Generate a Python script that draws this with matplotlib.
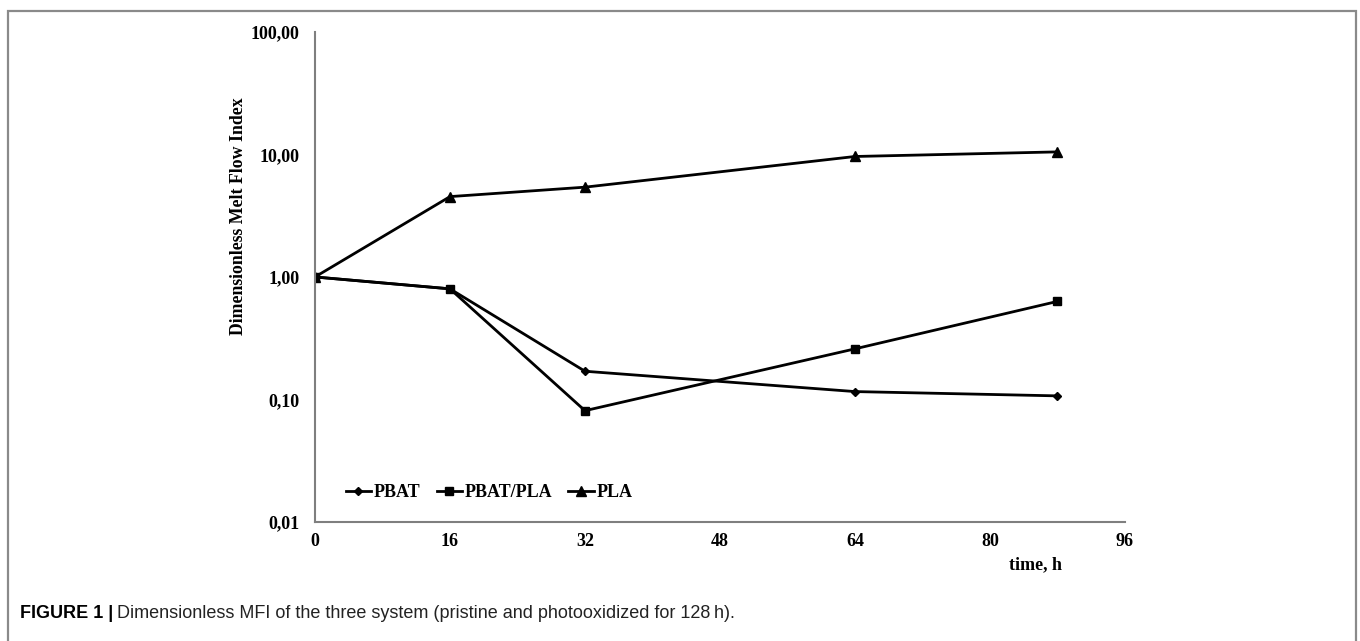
import numpy as np
import matplotlib
matplotlib.use("Agg")
import matplotlib.pyplot as plt
from matplotlib.patches import Rectangle

# dimensionless MFI vs. photooxidation time
hours = [0, 16, 32, 64, 88]
pbat = [1.00, 0.80, 0.170, 0.116, 0.107]
pbat_pla = [1.00, 0.80, 0.081, 0.259, 0.632]
pla = [1.00, 4.53, 5.41, 9.63, 10.5]

yticks = [0.01, 0.1, 1, 10, 100]
ytick_labels = ['0,01', '0,10', '1,00', '10,00', '100,00']
xticks = [0, 16, 32, 48, 64, 80, 96]

serif = ['Liberation Serif', 'DejaVu Serif']
spine_col = '#7f7f7f'

fig = plt.figure(figsize=(13.6, 6.41), dpi=100)
ax = fig.add_axes([0.2316, 0.1857, 0.5956, 0.7644])

ax.plot(hours, pbat, color='black', lw=2.0, marker='D', ms=4.5, label='PBAT')
ax.plot(hours, pbat_pla, color='black', lw=2.0, marker='s', ms=5.5, label='PBAT/PLA')
ax.plot(hours, pla, color='black', lw=2.0, marker='^', ms=6.5, label='PLA')

ax.set_yscale('log')
ax.set_ylim(0.01, 100)
ax.set_xlim(0, 96)
ax.set_yticks(yticks)
ax.set_yticklabels(ytick_labels)
ax.minorticks_off()
ax.set_xticks(xticks)
ax.set_xticklabels([str(t) for t in xticks])

for s in ['top', 'right']:
    ax.spines[s].set_visible(False)
for s in ['left', 'bottom']:
    ax.spines[s].set_color(spine_col)
    ax.spines[s].set_linewidth(1.5)

ax.tick_params(axis='both', length=0)
ax.tick_params(axis='y', pad=11)
ax.tick_params(axis='x', pad=8)
for lab in ax.get_xticklabels() + ax.get_yticklabels():
    lab.set_fontfamily(serif)
    lab.set_fontweight('bold')
    lab.set_fontsize(13)

# axis titles placed by hand, the y title sits above the axis centre
ax.text(-0.095, 0.625, 'Dimensionless Melt Flow Index', transform=ax.transAxes,
        rotation=90, ha='center', va='center',
        fontfamily=serif, fontweight='bold', fontsize=12.8)
ax.text(0.89, -0.07, 'time, h', transform=ax.transAxes, ha='center', va='top',
        fontfamily=serif, fontweight='bold', fontsize=13)

ax.legend(loc='center left', bbox_to_anchor=(0.038, 0.06), frameon=False,
          ncol=3, handlelength=1.4, handletextpad=0.15, columnspacing=0.9,
          borderpad=0, borderaxespad=0,
          prop={'family': serif, 'weight': 'bold', 'size': 13})

# outer frame
fig.patches.append(Rectangle((8 / 1360, -0.05), 1348 / 1360, 1 - 11 / 641 + 0.05,
                             transform=fig.transFigure, fill=False,
                             edgecolor='#8a8a8a', lw=1.6))

cap_font = ['Liberation Sans Narrow', 'Liberation Sans', 'DejaVu Sans']
t1 = fig.text(20 / 1360, 1 - 614 / 641, 'FIGURE 1 |', fontfamily=cap_font,
              fontweight='bold', fontsize=13, va='center', ha='left')
fig.canvas.draw()
bb = t1.get_window_extent()
fig.text((bb.x1 + 4) / 1360, 1 - 614 / 641,
         'Dimensionless MFI of the three system (pristine and photooxidized for 128\u2009h).',
         fontfamily=cap_font, fontsize=13, va='center', ha='left', color='#222222')

fig.savefig('out.png', dpi=100)
